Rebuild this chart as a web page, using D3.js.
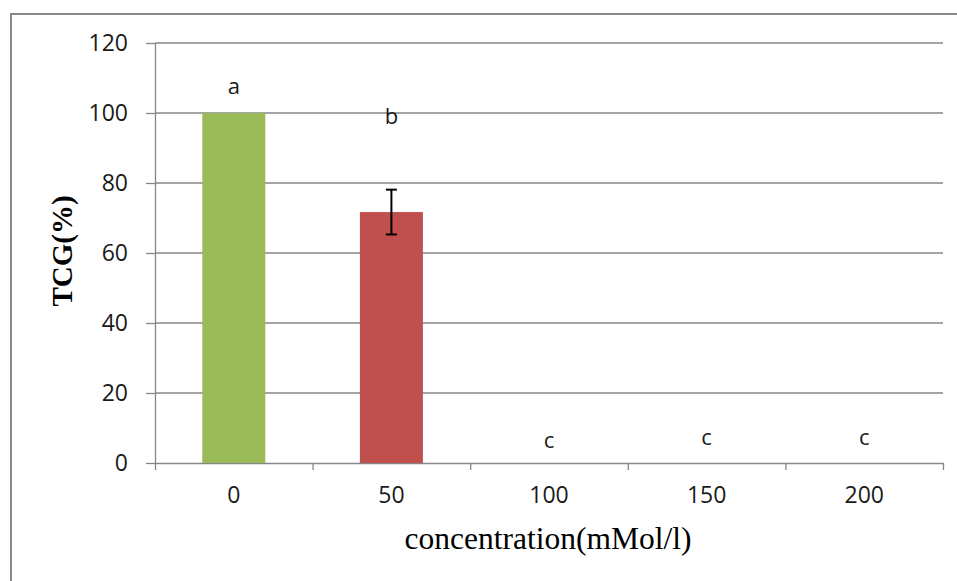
<!DOCTYPE html>
<html>
<head>
<meta charset="utf-8">
<script src="https://cdn.jsdelivr.net/npm/d3@7"></script>
<style>
    body { margin: 0; background: #fff; }
    svg { display: block; }
</style>
</head>
<body>
<script>
'use strict';

// chart values
var categories = ['0', '50', '100', '150', '200'];
var tcgValues = [100, 71.7, 0, 0, 0];
var tcgErrors = [null, 6.4, null, null, null];
var groupLetters = ['a', 'b', 'c', 'c', 'c'];
var letterLevels = [107.4, 99, 6.3, 7.1, 7.1];
var yTicks = [0, 20, 40, 60, 80, 100, 120];
var barColors = ['#9BBB59', '#C0504D', '#9BBB59', '#9BBB59', '#9BBB59'];

var width = 957;
var height = 581;
var margin = { top: 43, right: 14, bottom: 118, left: 155 };
var plotW = width - margin.left - margin.right;
var plotH = height - margin.top - margin.bottom;
var gridColor = '#868686';
var tickFont = '"Open Sans", sans-serif';

var svg = d3.select('body').append('svg')
    .attr('width', width)
    .attr('height', height);

// outer frame of the chart area
svg.append('rect')
    .attr('x', 11)
    .attr('y', 14)
    .attr('width', width + 10)
    .attr('height', height + 10)
    .attr('fill', 'none')
    .attr('stroke', '#888')
    .attr('stroke-width', 2);

var g = svg.append('g')
    .attr('transform', 'translate(' + margin.left + ',' + margin.top + ')');

var x = d3.scaleBand()
    .domain(categories)
    .range([0, plotW]);

var xEdge = d3.scaleLinear()
    .domain([0, categories.length])
    .range([0, plotW]);

var y = d3.scaleLinear()
    .domain([0, 120])
    .range([plotH, 0]);

// horizontal grid lines
g.append('g')
    .selectAll('line')
    .data(yTicks.filter(function (d) { return d > 0; }))
    .join('line')
    .attr('x1', 0)
    .attr('x2', plotW)
    .attr('y1', function (d) { return y(d); })
    .attr('y2', function (d) { return y(d); })
    .attr('stroke', gridColor)
    .attr('stroke-width', 1.3);

// y axis
var yAxis = g.append('g')
    .call(d3.axisLeft(y).tickValues(yTicks).tickSize(9).tickPadding(18).tickSizeOuter(0));
yAxis.select('.domain').attr('stroke', gridColor).attr('stroke-width', 1.3);
yAxis.selectAll('.tick line').attr('stroke', gridColor).attr('stroke-width', 1.3);
yAxis.selectAll('.tick text')
    .attr('fill', '#1a1a1a')
    .style('font-family', tickFont)
    .style('font-size', '23px');

// x axis: tick marks at category boundaries
var xAxis = g.append('g')
    .attr('transform', 'translate(0,' + plotH + ')')
    .call(d3.axisBottom(xEdge).tickValues(d3.range(categories.length + 1)).tickFormat('').tickSize(7).tickSizeOuter(0));
xAxis.select('.domain').attr('stroke', gridColor).attr('stroke-width', 1.3);
xAxis.selectAll('.tick line').attr('stroke', gridColor).attr('stroke-width', 1.3);

// x axis: category labels
var xLabels = g.append('g')
    .attr('transform', 'translate(0,' + plotH + ')')
    .call(d3.axisBottom(x).tickSize(0).tickPadding(24));
xLabels.select('.domain').remove();
xLabels.selectAll('.tick text')
    .attr('fill', '#1a1a1a')
    .style('font-family', tickFont)
    .style('font-size', '23px');

// bars
var barW = x.bandwidth() * 0.4;
g.append('g')
    .selectAll('rect')
    .data(tcgValues)
    .join('rect')
    .attr('x', function (d, i) { return x(categories[i]) + (x.bandwidth() - barW) / 2; })
    .attr('y', function (d) { return y(d); })
    .attr('width', barW)
    .attr('height', function (d) { return plotH - y(d); })
    .attr('fill', function (d, i) { return barColors[i]; });

// error bars
var errG = g.append('g')
    .selectAll('g')
    .data(tcgValues.map(function (v, i) { return { v: v, e: tcgErrors[i], c: categories[i] }; })
        .filter(function (d) { return d.e !== null; }))
    .join('g')
    .attr('stroke', '#000')
    .attr('stroke-width', 2);

errG.append('line')
    .attr('x1', function (d) { return x(d.c) + x.bandwidth() / 2; })
    .attr('x2', function (d) { return x(d.c) + x.bandwidth() / 2; })
    .attr('y1', function (d) { return y(d.v + d.e); })
    .attr('y2', function (d) { return y(d.v - d.e); });

[1, -1].forEach(function (sign) {
    errG.append('line')
        .attr('x1', function (d) { return x(d.c) + x.bandwidth() / 2 - 5.5; })
        .attr('x2', function (d) { return x(d.c) + x.bandwidth() / 2 + 5.5; })
        .attr('y1', function (d) { return y(d.v + sign * d.e); })
        .attr('y2', function (d) { return y(d.v + sign * d.e); });
});

// significance letters
g.append('g')
    .selectAll('text')
    .data(groupLetters)
    .join('text')
    .attr('x', function (d, i) { return x(categories[i]) + x.bandwidth() / 2; })
    .attr('y', function (d, i) { return y(letterLevels[i]); })
    .attr('dy', '0.32em')
    .attr('text-anchor', 'middle')
    .attr('fill', '#1a1a1a')
    .style('font-family', tickFont)
    .style('font-size', '22px')
    .text(function (d) { return d; });

// axis titles
svg.append('text')
    .attr('transform', 'translate(72,251) rotate(-90)')
    .attr('text-anchor', 'middle')
    .style('font-family', '"Liberation Serif", "Times New Roman", serif')
    .style('font-weight', 'bold')
    .style('font-size', '29px')
    .text('TCG(%)');

svg.append('text')
    .attr('x', 548)
    .attr('y', 549)
    .attr('text-anchor', 'middle')
    .style('font-family', '"Liberation Serif", "Times New Roman", serif')
    .style('font-size', '31.5px')
    .text('concentration(mMol/l)');
</script>
</body>
</html>
